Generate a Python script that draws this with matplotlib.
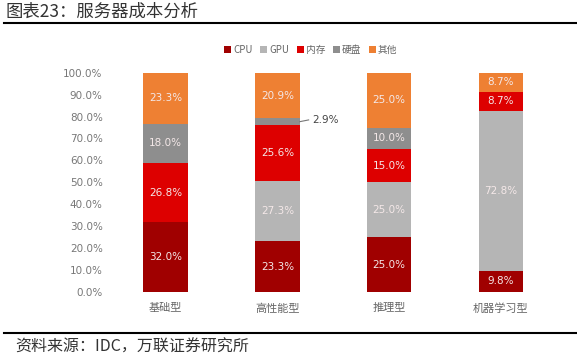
import numpy as np
import matplotlib.pyplot as plt

plt.rcParams['font.family'] = ['Noto Sans CJK SC', 'DejaVu Sans']

# data
categories = ['基础型', '高性能型', '推理型', '机器学习型']
series_names = ['CPU', 'GPU', '内存', '硬盘', '其他']
cpu = [32.0, 23.3, 25.0, 9.8]
gpu = [0.0, 27.3, 25.0, 72.8]
mem = [26.8, 25.6, 15.0, 8.7]
disk = [18.0, 2.9, 10.0, 0.0]
other = [23.3, 20.9, 25.0, 8.7]
yticks = np.arange(0, 101, 10)

colors = ['#A00000', '#B5B5B5', '#DD0000', '#8E8E8E', '#EE8033']
series = [cpu, gpu, mem, disk, other]

fig = plt.figure(figsize=(5.77, 3.63), dpi=100)
ax = fig.add_axes([0.19, 0.195, 0.775, 0.605])

x = np.arange(len(categories))
bottom = np.zeros(len(categories))
for name, vals, c in zip(series_names, series, colors):
    vals = np.array(vals)
    ax.bar(x, vals, 0.4, bottom=bottom, color=c, label=name)
    for xi, v, b in zip(x, vals, bottom):
        if v >= 5:
            ax.text(xi, b + v / 2, f'{v:.1f}%', ha='center', va='center',
                    fontsize=7.5, color='#F4E8E8', family='DejaVu Sans')
    bottom += vals

# small segment label with leader line
b = cpu[1] + gpu[1] + mem[1] + disk[1] / 2
ax.plot([1.2, 1.28], [b, b + 0.8], color='#777777', lw=0.8)
ax.text(1.31, b + 0.8, f'{disk[1]:.1f}%', ha='left', va='center',
        fontsize=7.5, color='#444444', family='DejaVu Sans')

ax.set_xlim(-0.5, 3.5)
ax.set_ylim(0, 100)
ax.set_yticks(yticks)
ax.set_yticklabels([f'{t:.1f}%' for t in yticks], family='DejaVu Sans')
ax.set_xticks(x)
ax.set_xticklabels(categories)
ax.tick_params(axis='y', length=0, labelsize=7.5, labelcolor='#777777', pad=5)
ax.tick_params(axis='x', length=0, labelsize=8, labelcolor='#666666', pad=8)
for s in ax.spines.values():
    s.set_visible(False)

ax.legend(loc='lower center', bbox_to_anchor=(0.45, 1.04), ncol=5, frameon=False,
          fontsize=7, handlelength=0.7, handleheight=0.7, handletextpad=0.2,
          columnspacing=0.8, labelcolor='#666666')

# title, rules and source
fig.text(0.01, 0.967, '图表23：服务器成本分析', fontsize=12.5, color='#333333',
         ha='left', va='center')
fig.add_artist(plt.Line2D([0.007, 1.0], [0.937, 0.937], color='black', lw=1.5))
fig.add_artist(plt.Line2D([0.007, 1.0], [0.083, 0.083], color='black', lw=1.5))
fig.text(0.026, 0.044, '资料来源：IDC，万联证券研究所', fontsize=11.5, color='#333333',
         ha='left', va='center')

fig.savefig('out.png', dpi=100)
